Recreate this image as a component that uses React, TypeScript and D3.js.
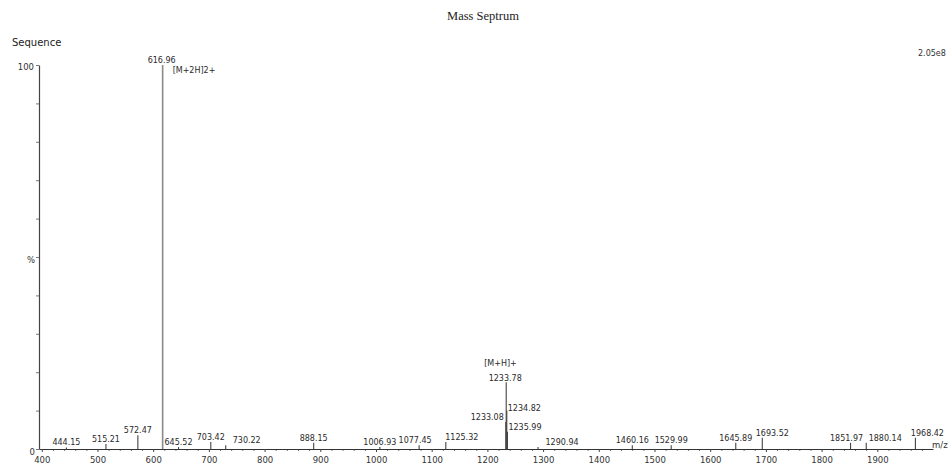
import React, { useEffect, useRef } from "react";
import * as d3 from "d3";

// ---- data ----
const mzValues = [444.15, 515.21, 572.47, 616.96, 645.52, 703.42, 730.22, 888.15, 1006.93, 1077.45, 1125.32, 1233.08, 1233.78, 1234.82, 1235.99, 1290.94, 1460.16, 1529.99, 1645.89, 1693.52, 1851.97, 1880.14, 1968.42];
const intensities = [0.4, 1.3, 3.6, 100, 0.5, 1.8, 1.0, 1.6, 0.5, 1.0, 1.8, 7, 17.4, 10, 4.5, 0.5, 1.0, 1.0, 1.6, 2.9, 1.6, 1.6, 2.9];
const peakLabels = ["444.15", "515.21", "572.47", "616.96", "645.52", "703.42", "730.22", "888.15", "1006.93", "1077.45", "1125.32", "1233.08", "1233.78", "1234.82", "1235.99", "1290.94", "1460.16", "1529.99", "1645.89", "1693.52", "1851.97", "1880.14", "1968.42"];
const ionMz = [616.96, 1233.78];
const ionLabels = ["[M+2H]2+", "[M+H]+"];
const xTicks = [400, 500, 600, 700, 800, 900, 1000, 1100, 1200, 1300, 1400, 1500, 1600, 1700, 1800, 1900];
const yTicks = [0, 10, 20, 30, 40, 50, 60, 70, 80, 90, 100];
const titleText = "Mass Septrum";
const sequenceText = "Sequence";
const maxIntensityText = "2.05e8";
const xUnitText = "m/z";

// ---- layout (label offsets) ----
type Lay = { dx: number; dy: number; anchor: string };
const labelLayout: Record<string, Lay> = {
  "616.96": { dx: -1, dy: -2, anchor: "middle" },
  "730.22": { dx: 21, dy: -2, anchor: "middle" },
  "1077.45": { dx: -4, dy: -2, anchor: "middle" },
  "1125.32": { dx: 16, dy: -2, anchor: "middle" },
  "1233.08": { dx: -2, dy: -2, anchor: "end" },
  "1233.78": { dx: -1, dy: -1, anchor: "middle" },
  "1234.82": { dx: 1, dy: 0, anchor: "start" },
  "1235.99": { dx: 1, dy: -2, anchor: "start" },
  "1290.94": { dx: 24, dy: -2, anchor: "middle" },
  "1693.52": { dx: 10, dy: -2, anchor: "middle" },
  "1851.97": { dx: -4, dy: -2, anchor: "middle" },
  "1880.14": { dx: 19, dy: -2, anchor: "middle" },
  "1968.42": { dx: 12, dy: -2, anchor: "middle" },
};
const ionLayout = [
  { dx: 10, dy: 8, anchor: "start" },
  { dx: -22, dy: -16, anchor: "start" },
];

const W = 950;
const H = 470;
const FONT = "'DejaVu Sans', sans-serif";

export default function App() {
  const xAxisRef = useRef<SVGGElement>(null);
  const xMinorRef = useRef<SVGGElement>(null);
  const yAxisRef = useRef<SVGGElement>(null);

  const x = d3.scaleLinear().domain([395, 2000]).range([39, 933]);
  const y = d3.scaleLinear().domain([0, 100]).range([449, 65]);

  useEffect(() => {
    if (xAxisRef.current) {
      const g = d3.select(xAxisRef.current);
      g.call(d3.axisBottom(x).tickValues(xTicks).tickSize(3).tickSizeOuter(0).tickFormat(d3.format("d")) as any);
      g.select(".domain").attr("stroke", "#333").attr("stroke-width", 1.2);
      g.selectAll(".tick line").attr("stroke", "#444");
      g.selectAll(".tick text")
        .attr("font-family", FONT)
        .attr("font-size", 8.5)
        .attr("fill", "#333")
        .attr("dy", "0.55em")
        .attr("y", 9);
    }
    if (xMinorRef.current) {
      const g = d3.select(xMinorRef.current);
      const minor = d3.range(420, 2000, 20).filter((v) => v % 100 !== 0);
      g.call(d3.axisBottom(x).tickValues(minor).tickSize(2).tickFormat(() => "") as any);
      g.select(".domain").remove();
      g.selectAll(".tick line").attr("stroke", "#777");
    }
    if (yAxisRef.current) {
      const g = d3.select(yAxisRef.current);
      g.call(d3.axisLeft(y).tickValues(yTicks).tickSize(3).tickSizeOuter(0).tickFormat(() => "") as any);
      g.select(".domain").attr("stroke", "#444").attr("stroke-width", 1.2);
      g.selectAll(".tick line").attr("stroke", "#777");
    }
  }, []);

  return (
    <svg
      width={W}
      height={H}
      style={{ position: "absolute", left: 0, top: 0, background: "#fff" }}
    >
      <rect width={W} height={H} fill="#fff" />
      <text x={483} y={20} textAnchor="middle" fontFamily="'Liberation Serif', serif" fontSize={12.5} fill="#222">
        {titleText}
      </text>
      <text x={12} y={46} fontFamily={FONT} fontSize={10} fill="#222">
        {sequenceText}
      </text>
      <text x={918} y={56} fontFamily={FONT} fontSize={8} fill="#333">
        {maxIntensityText}
      </text>
      <text x={34} y={70} textAnchor="end" fontFamily={FONT} fontSize={8.5} fill="#333">
        {yTicks[yTicks.length - 1]}
      </text>
      <text x={35} y={263} textAnchor="end" fontFamily={FONT} fontSize={8.5} fill="#333">
        %
      </text>
      <text x={35} y={455} textAnchor="end" fontFamily={FONT} fontSize={8.5} fill="#333">
        {yTicks[0]}
      </text>
      <text x={932} y={448} fontFamily={FONT} fontSize={8.5} fill="#333">
        {xUnitText}
      </text>

      {/* peaks */}
      {mzValues.map((mz, i) => (
        <line
          key={"p" + i}
          x1={x(mz)}
          x2={x(mz)}
          y1={y(0)}
          y2={y(intensities[i])}
          stroke={intensities[i] > 50 ? "#8a8a8a" : "#444"}
          strokeWidth={intensities[i] > 50 ? 1.6 : 1.1}
        />
      ))}
      {mzValues.map((mz, i) => {
        const lay = labelLayout[peakLabels[i]] || { dx: 0, dy: -2, anchor: "middle" };
        return (
          <text
            key={"l" + i}
            x={x(mz) + lay.dx}
            y={y(intensities[i]) + lay.dy}
            textAnchor={lay.anchor as any}
            fontFamily={FONT}
            fontSize={8}
            fill="#2a2a2a"
          >
            {peakLabels[i]}
          </text>
        );
      })}
      {ionMz.map((mz, i) => {
        const idx = mzValues.indexOf(mz);
        const lay = ionLayout[i];
        return (
          <text
            key={"ion" + i}
            x={x(mz) + lay.dx}
            y={y(intensities[idx]) + lay.dy}
            textAnchor={lay.anchor as any}
            fontFamily={FONT}
            fontSize={8}
            fill="#2a2a2a"
          >
            {ionLabels[i]}
          </text>
        );
      })}

      <g ref={xMinorRef} transform={`translate(0,${y(0)})`} />
      <g ref={xAxisRef} transform={`translate(0,${y(0)})`} />
      <g ref={yAxisRef} transform={`translate(${x(395)},0)`} />
    </svg>
  );
}
